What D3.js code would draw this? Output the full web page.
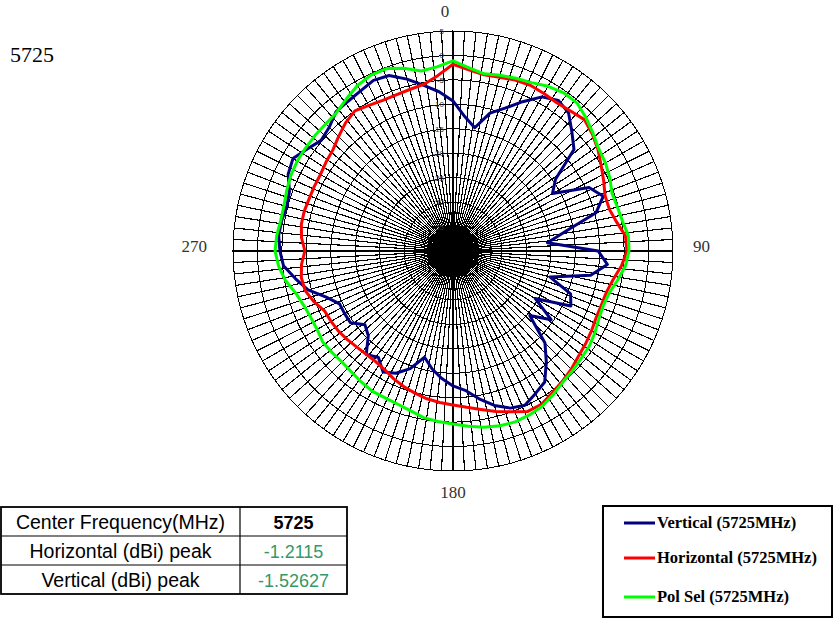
<!DOCTYPE html>
<html><head><meta charset="utf-8">
<script src="https://cdn.jsdelivr.net/npm/d3@7"></script>
<style>body{margin:0;background:#fff}</style>
</head><body>
<svg id="c" width="834" height="621"></svg>
<script>
const title = "5725";
const angles = [0,5,10,15,20,25,30,35,40,45,50,55,60,65,70,75,80,85,90,95,100,105,110,115,120,125,130,135,140,145,150,155,160,165,170,175,180,185,190,195,200,205,210,215,220,225,230,235,240,245,250,255,260,265,270,275,280,285,290,295,300,305,310,315,320,325,330,335,340,345,350,355];
const vertical = [-9.3,-12.4,-14.4,-10.8,-8.9,-6.3,-3.6,-2.4,-3.2,-5.6,-7.7,-14.4,-16.5,-9.3,-7.3,-9.7,-16.5,-20.6,-10.3,-8.3,-11.4,-19.5,-14.4,-13.4,-20.6,-15.5,-19.5,-13.4,-10.3,-7.3,-6.3,-5.2,-5.8,-7.3,-9.3,-11.4,-12.4,-13.8,-15.5,-17.5,-14.4,-12.4,-11.4,-13.4,-12.4,-15.5,-16.5,-14.4,-14.4,-14.4,-12.4,-9.3,-7.3,-5.2,-4.6,-4.2,-4.4,-4.8,-4.4,-2.8,-2.2,-3.6,-4.8,-4.2,-2.8,-2.6,-2.2,-1.5,-1.8,-3.6,-5.6,-7.3];
const horizontal = [-1.8,-2.8,-3.4,-3.2,-2.8,-2.6,-2.8,-3.0,-2.6,-2.0,-2.8,-3.8,-5.0,-6.0,-6.9,-6.9,-6.0,-4.6,-4.4,-5.4,-6.7,-7.5,-7.7,-7.7,-7.3,-6.9,-6.5,-5.8,-5.2,-4.6,-3.8,-3.8,-5.0,-6.0,-7.1,-7.9,-8.5,-8.9,-9.3,-9.9,-10.5,-11.2,-12.0,-12.4,-12.4,-12.2,-11.8,-11.4,-11.2,-11.0,-9.7,-8.7,-8.5,-8.9,-9.7,-8.9,-8.5,-8.5,-8.7,-8.7,-8.7,-8.3,-7.9,-6.9,-5.8,-5.0,-5.6,-6.0,-6.0,-5.8,-5.4,-4.0];
const polSel = [-1.1,-2.4,-3.2,-2.8,-2.4,-2.0,-1.1,-0.5,-0.5,-1.5,-2.6,-3.6,-4.0,-4.6,-5.4,-5.2,-4.8,-4.0,-4.0,-4.6,-5.8,-6.9,-7.3,-7.1,-6.5,-6.0,-5.8,-5.4,-5.0,-4.2,-3.4,-3.0,-2.8,-3.0,-3.4,-4.0,-4.6,-5.0,-5.4,-6.2,-6.7,-6.9,-6.9,-7.3,-7.7,-7.9,-7.7,-7.5,-7.9,-7.9,-7.5,-6.7,-5.2,-4.2,-3.6,-3.8,-4.2,-4.2,-3.8,-3.4,-3.2,-3.2,-3.2,-3.2,-3.0,-2.0,-0.9,-0.3,-0.3,-1.3,-2.6,-2.2];
const radialTicks = [5,0,-5,-10,-15,-20,-25,-30,-35];
const angleTicks = [0,90,180,270];
const seriesNames = ["Vertical (5725MHz)","Horizontal (5725MHz)","Pol Sel (5725MHz)"];
const seriesColors = ["#000080","#ff0000","#00ff00"];
const tableLabels = ["Center Frequency(MHz)","Horizontal (dBi) peak","Vertical (dBi) peak"];
const tableValues = ["5725","-1.2115","-1.52627"];

const svg = d3.select("#c");
svg.append("rect").attr("width",834).attr("height",621).attr("fill","#fff");
const cx = 453, cy = 251, R = 220;
const r = d3.scaleLinear().domain([-40,5]).range([0,R]);
const spokeCount = 120;
const spokeAngles = d3.range(spokeCount).map(i => i*360/spokeCount);
const g = svg.append("g").attr("transform",`translate(${cx},${cy})`);
const rad = d => d*Math.PI/180;

// ring polygons
const grid = g.append("g").attr("shape-rendering","crispEdges");
radialTicks.forEach(v => {
  const pts = spokeAngles.map(a => [Math.sin(rad(a))*r(v), -Math.cos(rad(a))*r(v)]);
  grid.append("path").attr("d", d3.line().curve(d3.curveLinearClosed)(pts))
    .attr("fill","none").attr("stroke","#000").attr("stroke-width",1);
});
spokeAngles.forEach(a => {
  grid.append("line").attr("x1",0).attr("y1",0)
    .attr("x2",Math.sin(rad(a))*R).attr("y2",-Math.cos(rad(a))*R)
    .attr("stroke","#000").attr("stroke-width",1.15);
});
// radial tick labels
radialTicks.forEach(v => {
  g.append("text").attr("x",-9).attr("y",-r(v)+3).attr("text-anchor","end")
   .attr("font-family","Liberation Sans, Arial").attr("font-size",8).attr("fill","#333").text(v);
});
// angle labels
angleTicks.forEach(a => {
  const t = g.append("text").attr("font-family","Liberation Serif, Times New Roman")
    .attr("font-size",17).attr("fill","#333").text(a);
  if (a===0) t.attr("x",-8).attr("y",-R-14).attr("text-anchor","middle");
  if (a===180) t.attr("x",0).attr("y",R+27).attr("text-anchor","middle");
  if (a===90) t.attr("x",R+20).attr("y",1).attr("text-anchor","start");
  if (a===270) t.attr("x",-R-26).attr("y",1).attr("text-anchor","end");
});
// series
const line = d3.lineRadial().angle(d => rad(d[0])).radius(d => r(d[1])).curve(d3.curveLinearClosed);
[vertical, horizontal, polSel].forEach((s,i) => {
  g.append("path").attr("d", line(angles.map((a,j)=>[a,s[j]])))
   .attr("fill","none").attr("stroke",seriesColors[i]).attr("stroke-width",3)
   .attr("stroke-linejoin","round");
});
// title
svg.append("text").attr("x",10).attr("y",62).attr("font-family","Liberation Serif, Times New Roman")
  .attr("font-size",22).attr("fill","#000").text(title);
// table
const tx = 1, ty = 507, c1 = 240, c2 = 347, rh = 29;
const tb = svg.append("g");
tableLabels.forEach((lab,i) => {
  tb.append("text").attr("x",(tx+c1)/2).attr("y",ty+rh*i+rh/2+7).attr("text-anchor","middle")
    .attr("font-family","Liberation Sans, Arial").attr("font-size",19.5).attr("fill","#000").text(lab);
  tb.append("text").attr("x",(c1+c2)/2).attr("y",ty+rh*i+rh/2+7).attr("text-anchor","middle")
    .attr("font-family","Liberation Sans, Arial").attr("font-size",18)
    .attr("font-weight", i===0 ? "bold" : "normal")
    .attr("fill", i===0 ? "#000" : "#339966").text(tableValues[i]);
  if (i>0) tb.append("line").attr("x1",tx).attr("x2",c2).attr("y1",ty+rh*i).attr("y2",ty+rh*i).attr("stroke","#000").attr("stroke-width",1.2);
});
tb.append("line").attr("x1",c1).attr("x2",c1).attr("y1",ty).attr("y2",ty+rh*3).attr("stroke","#000").attr("stroke-width",1.2);
tb.append("rect").attr("x",tx).attr("y",ty).attr("width",c2-tx).attr("height",rh*3)
  .attr("fill","none").attr("stroke","#000").attr("stroke-width",1.8);
// legend
const lg = svg.append("g");
lg.append("rect").attr("x",603).attr("y",506).attr("width",229).attr("height",111)
  .attr("fill","none").attr("stroke","#000").attr("stroke-width",2);
const ly = [523,558,597];
seriesNames.forEach((n,i) => {
  lg.append("line").attr("x1",624).attr("x2",655).attr("y1",ly[i]).attr("y2",ly[i])
    .attr("stroke",seriesColors[i]).attr("stroke-width",3);
  lg.append("text").attr("x",657).attr("y",ly[i]+5).attr("font-family","Liberation Serif, Times New Roman")
    .attr("font-size",16.5).attr("font-weight","bold").attr("fill","#000").text(n);
});
</script>
</body></html>
